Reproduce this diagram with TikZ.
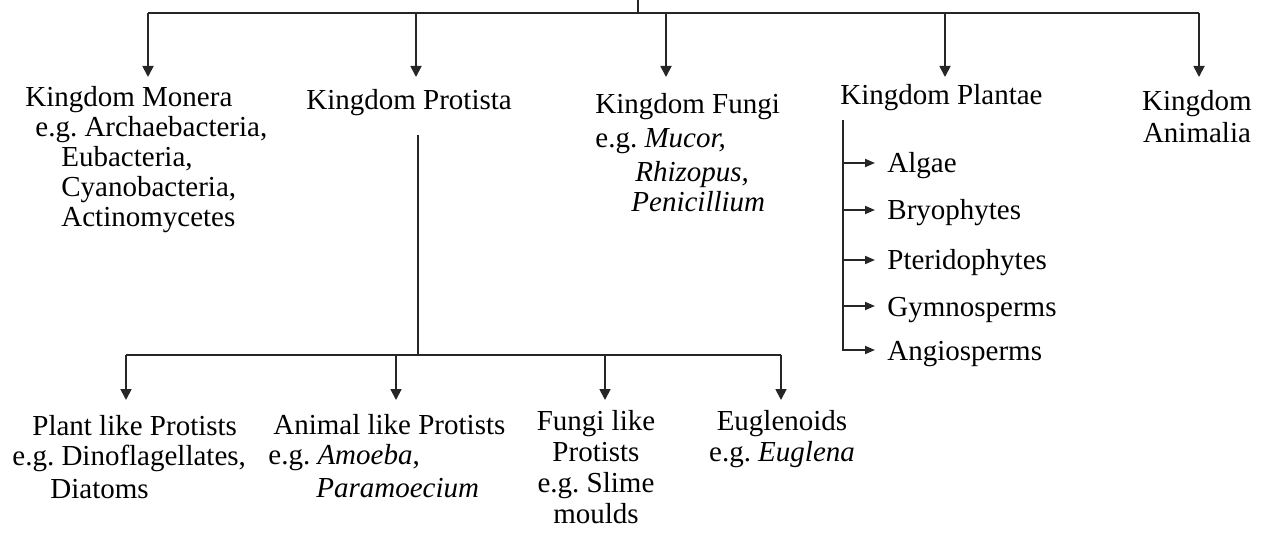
\documentclass[tikz,border=0pt]{standalone}
\usepackage{fontspec}
\setmainfont{Liberation Serif}
\usetikzlibrary{arrows.meta,positioning}

\begin{document}
\begin{tikzpicture}[
	x=0.5pt, y=-0.5pt,
	every node/.style={font=\fontsize{14.5}{15}\selectfont, inner sep=0pt},
	taxon/.style={align=left, anchor=base west},
	ctaxon/.style={align=center, anchor=base},
	plantgroup/.style={anchor=west, inner xsep=6pt, text height=13pt, text depth=3pt},
	link/.style={line width=0.9pt, black!85},
	arrow/.style={link, -{Triangle[length=5.5pt,width=5.5pt]}},
	subarrow/.style={link, -{Triangle[length=5pt,width=4pt]}}
	]
	\useasboundingbox (0,0) rectangle (1264,534);
	
	% Regni (base = ultima riga)
	\node[taxon] (monera) at (25,227) {Kingdom Monera\\ \hspace*{5pt}e.g.\ Archaebacteria,\\ \hspace*{18pt}Eubacteria,\\ \hspace*{18pt}Cyanobacteria,\\ \hspace*{18pt}Actinomycetes};
	\node[taxon] (protista) at (306,110) {Kingdom Protista};
	\node[taxon] (fungi) at (595,212) {Kingdom Fungi\\[2pt] e.g.\ \textit{Mucor,}\\[2pt] \hspace*{20pt}\textit{Rhizopus,}\\ \hspace*{18pt}\textit{Penicillium}};
	\node[taxon] (plantae) at (840,105) {Kingdom Plantae};
	\node[ctaxon] (animalia) at (1197,143) {Kingdom\\[1pt]Animalia};
	
	% Punti di arrivo delle frecce
	\coordinate (root) at (638,0);
	\coordinate (bar) at (638,13);
	\coordinate (monera-in) at (148,77);
	\coordinate (protista-in) at (416,77);
	\coordinate (fungi-in) at (666,77);
	\coordinate (plantae-in) at (945,77);
	\coordinate (animalia-in) at (1199,77);
	
	% Frecce verso i regni
	\draw[link] (root) -- (bar);
	\draw[link] (bar -| monera-in) -- (bar -| animalia-in);
	\foreach \k in {monera,protista,fungi,plantae,animalia}
		\draw[arrow] (bar -| \k-in) -- (\k-in);
	
	% Gruppi di Plantae
	\coordinate (plspine) at (843,120);
	\foreach \name/\txt/\y in {algae/Algae/163, bryo/Bryophytes/210, pterido/Pteridophytes/260, gymno/Gymnosperms/306, angio/Angiosperms/350}
		\node[plantgroup] (\name) at (875,\y) {\txt};
	\foreach \name in {algae,bryo,pterido,gymno}
		\draw[subarrow] (plspine |- \name.west) -- (\name.west);
	\draw[subarrow] (plspine) |- (angio.west);
	
	% Protisti
	\node[taxon] (plantlike) at (12,498) {\hspace*{10pt}Plant like Protists\\ e.g.\ Dinoflagellates,\\[1.5pt] \hspace*{19pt}Diatoms};
	\node[taxon] (animallike) at (268,497) {\hspace*{2.5pt}Animal like Protists\\ e.g.\ \textit{Amoeba},\\[1.5pt] \hspace*{24pt}\textit{Paramoecium}};
	\node[ctaxon] (fungilike) at (596,523) {Fungi like\\[0.5pt]Protists\\[0.5pt]e.g.\ Slime\\[0.5pt]moulds};
	\node[ctaxon] (euglenoids) at (782,461) {Euglenoids\\[0.5pt]e.g.\ \textit{Euglena}};
	
	\coordinate (protista-out) at (418,135);
	\coordinate (subbar) at (418,355);
	\coordinate (plantlike-in) at (126,400);
	\coordinate (animallike-in) at (396,400);
	\coordinate (fungilike-in) at (605,400);
	\coordinate (euglenoids-in) at (781,400);
	
	% Frecce verso i protisti
	\draw[link] (protista-out) -- (subbar);
	\draw[link] (subbar -| plantlike-in) -- (subbar -| euglenoids-in);
	\foreach \k in {plantlike,animallike,fungilike,euglenoids}
		\draw[arrow] (subbar -| \k-in) -- (\k-in);
\end{tikzpicture}
\end{document}
